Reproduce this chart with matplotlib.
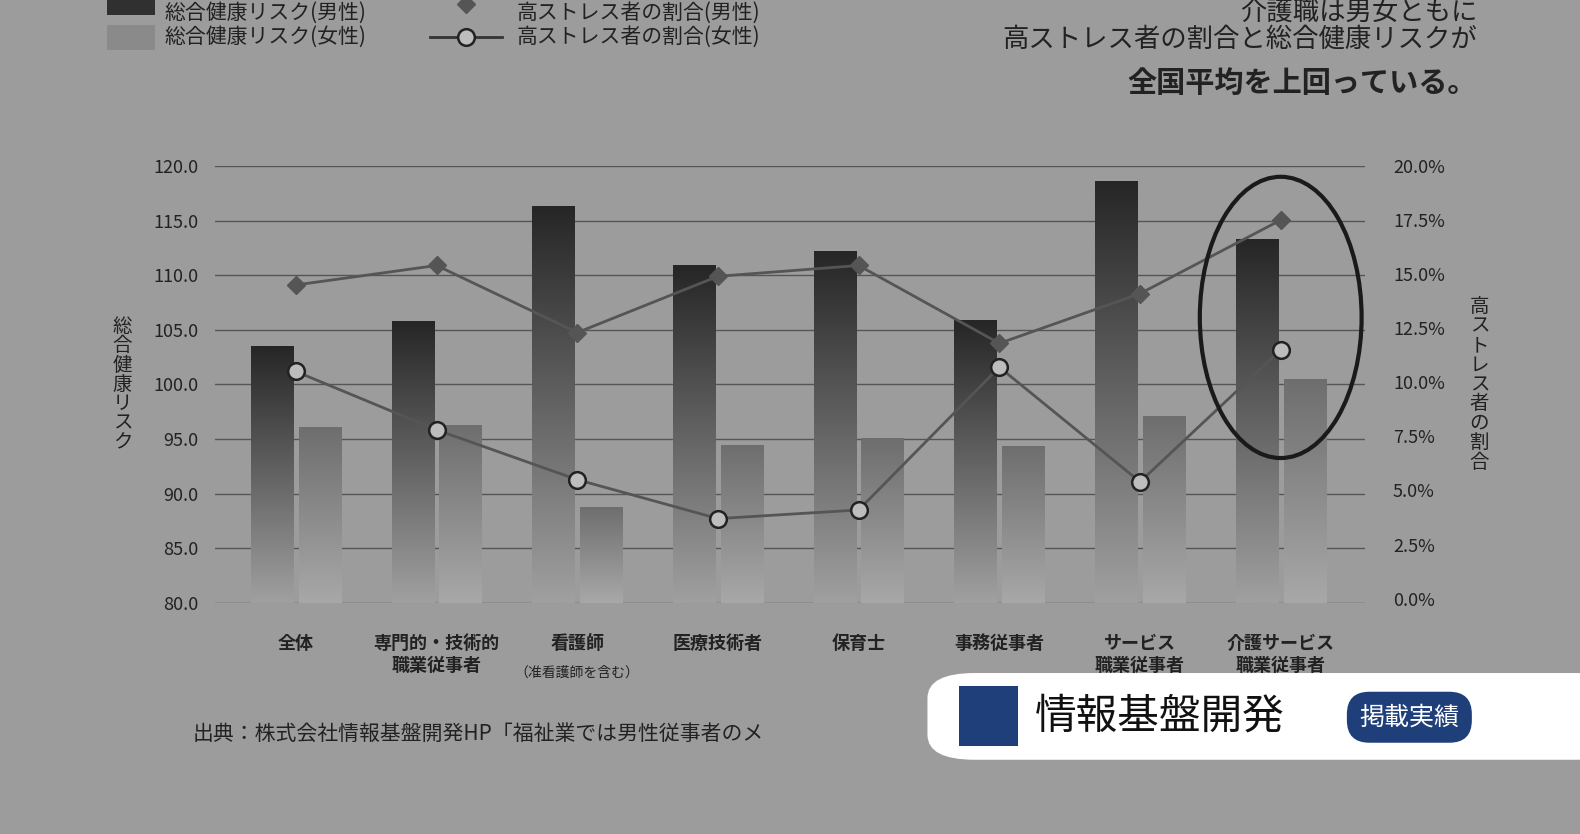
import numpy as np
import matplotlib.pyplot as plt
from matplotlib.patches import Ellipse, FancyBboxPatch

plt.rcParams["font.family"] = "Noto Sans CJK JP"

categories = ["全体", "専門的・技術的\n職業従事者", "看護師", "医療技術者", "保育士",
              "事務従事者", "サービス\n職業従事者", "介護サービス\n職業従事者"]
risk_male = [103.5, 105.8, 116.3, 110.9, 112.2, 105.9, 118.6, 113.3]
risk_female = [96.1, 96.3, 88.8, 94.5, 95.1, 94.4, 97.1, 100.5]
stress_male = [14.5, 15.4, 12.3, 14.9, 15.4, 11.8, 14.1, 17.5]
stress_female = [10.5, 7.8, 5.5, 3.7, 4.1, 10.7, 5.4, 11.5]

bg = "#9c9c9c"
fig = plt.figure(figsize=(15.8, 8.34), dpi=100, facecolor=bg)
ax = fig.add_axes([0.136, 0.277, 0.728, 0.524], facecolor=bg)
x = np.arange(len(categories))
w = 0.3

ax.set_ylim(80, 120)
ax.set_xlim(-0.576, 7.6)
grad = np.linspace(0, 1, 256).reshape(-1, 1)

def grad_bars(offset, vals, top, bottom):
    bars = ax.bar(x + offset, np.array(vals) - 80, w, bottom=80, color="none", zorder=2)
    for b in bars:
        x0, y0 = b.get_x(), b.get_y()
        im = ax.imshow(grad, extent=[x0, x0 + b.get_width(), y0, y0 + b.get_height()],
                       cmap=plt.matplotlib.colors.LinearSegmentedColormap.from_list("g", [bottom, top]),
                       origin="lower", aspect="auto", zorder=2)
        im.set_clip_path(b)

grad_bars(-0.17, risk_male, "#262626", "#a0a0a0")
grad_bars(0.17, risk_female, "#6e6e6e", "#a8a8a8")
ax.set_aspect("auto")

ax.set_yticks(np.arange(80, 121, 5))
ax.set_yticklabels([f"{v:.1f}" for v in np.arange(80, 121, 5)], fontsize=13, color="#222")
ax.yaxis.grid(True, color="#555", lw=1)
ax.set_axisbelow(True)
ax.set_xticks(x)
ax.set_xticklabels(categories, fontsize=13, color="#222", fontweight="bold")
ax.tick_params(axis="x", pad=22)
ax.text(2, 74.3, "（准看護師を含む）", fontsize=10, ha="center", va="top", color="#222")
for s in ax.spines.values():
    s.set_visible(False)
ax.tick_params(length=0)
ax.tick_params(axis="y", pad=12)
ax.set_ylabel("総\n合\n健\n康\nリ\nス\nク", rotation=0, fontsize=14, color="#222",
              va="center", labelpad=22, linespacing=0.9)

ax2 = ax.twinx()
ax2.set_ylim(0.0 - 0.2, 20)
ax2.set_yticks(np.arange(0, 20.1, 2.5))
ax2.set_yticklabels([f"{v:.1f}%" for v in np.arange(0, 20.1, 2.5)], fontsize=13, color="#222")
ax2.tick_params(length=0, pad=20)
for s in ax2.spines.values():
    s.set_visible(False)
ax2.set_ylabel("高\nス\nト\nレ\nス\n者\nの\n割\n合", rotation=0, fontsize=14, color="#222",
               va="center", labelpad=25, linespacing=0.9)
ax2.plot(x, stress_male, color="#555", lw=2, marker="D", ms=9, mfc="#555", mec="#555", zorder=4)
ax2.plot(x, stress_female, color="#555", lw=2, marker="o", ms=12, mfc="#bdbdbd",
         mec="#222", mew=1.8, zorder=4)
ax2.add_patch(Ellipse((7.0, 13.0), 1.15, 13.0, fill=False, ec="#1a1a1a", lw=3, zorder=5))

# legend (top row partly cut off in the source)
for yy, c in [(0.94, "#8a8a8a"), (0.982, "#303030")]:
    fig.patches.append(FancyBboxPatch((0.068, yy), 0.03, 0.03, boxstyle="square,pad=0",
                                      transform=fig.transFigure, fc=c, ec="none"))
fig.text(0.104, 0.956, "総合健康リスク(女性)", fontsize=15, va="center", color="#222")
fig.text(0.104, 0.985, "総合健康リスク(男性)", fontsize=15, va="center", color="#222")
fig.lines.append(plt.Line2D([0.272, 0.318], [0.956, 0.956], transform=fig.transFigure,
                            color="#333", lw=2))
fig.lines.append(plt.Line2D([0.295], [0.956], transform=fig.transFigure, color="#333",
                            marker="o", ms=12, mfc="#bdbdbd", mec="#222", mew=1.8))
fig.lines.append(plt.Line2D([0.295], [0.995], transform=fig.transFigure, color="#555",
                            marker="D", ms=9))
fig.text(0.327, 0.956, "高ストレス者の割合(女性)", fontsize=15, va="center", color="#222")
fig.text(0.327, 0.985, "高ストレス者の割合(男性)", fontsize=15, va="center", color="#222")

fig.text(0.935, 0.985, "介護職は男女ともに", fontsize=19, ha="right", va="center", color="#222")
fig.text(0.935, 0.953, "高ストレス者の割合と総合健康リスクが", fontsize=19, ha="right", va="center", color="#222")
fig.text(0.935, 0.9, "全国平均を上回っている。", fontsize=21, ha="right", va="center",
         color="#222", fontweight="bold")
fig.text(0.122, 0.12, "出典：株式会社情報基盤開発HP「福祉業では男性従事者のメ", fontsize=15,
         va="center", color="#222")

# overlay badge
fig.patches.append(FancyBboxPatch((0.587, 0.089), 0.44, 0.104, boxstyle="round,pad=0,rounding_size=0.03",
                                  transform=fig.transFigure, fc="white", ec="none", zorder=10))
fig.patches.append(FancyBboxPatch((0.607, 0.105), 0.037, 0.072, boxstyle="square,pad=0",
                                  transform=fig.transFigure, fc="#1f3f7a", ec="none", zorder=11))
fig.text(0.655, 0.14, "情報基盤開発", fontsize=30, va="center", color="#111", zorder=12)
fig.text(0.892, 0.14, "掲載実績", fontsize=18, va="center", ha="center", color="white", zorder=12,
         bbox=dict(boxstyle="round,pad=0.5,rounding_size=0.9", fc="#1f3f7a", ec="none"))

fig.savefig("out.png", dpi=100, facecolor=bg)
